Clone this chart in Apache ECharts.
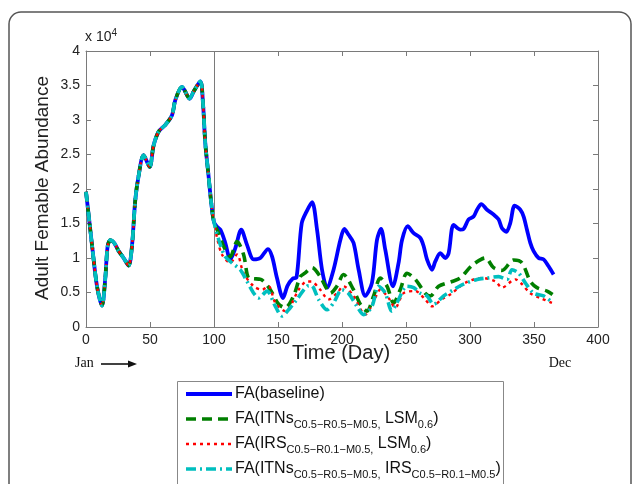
<!DOCTYPE html>
<html>
<head>
<meta charset="utf-8">
<script src="https://cdn.jsdelivr.net/npm/echarts/dist/echarts.min.js"></script>
<style>
  html, body { margin: 0; padding: 0; background: #fff; }
  #chart { width: 632px; height: 484px; }
</style>
</head>
<body>
<div id="chart"></div>
<script>
// Adult female mosquito abundance (units of 10^4) over one year.
// Days 0-100: all scenarios share the same trajectory (before intervention).
const sharedDays = [0, 2.5, 4.8, 8.6, 12.5, 15, 16.9, 19, 22, 25.5, 29.4, 33.3, 35.9, 38.5, 41, 45, 49.7, 52.8, 56.7, 62, 67.2, 69.8, 75, 81, 84, 89.3, 91.4, 93.2, 95.8, 97.9, 100];
const sharedVals = [1.96, 1.55, 1.17, 0.59, 0.31, 0.69, 1.17, 1.26, 1.22, 1.10, 1.00, 0.89, 1.17, 1.84, 2.18, 2.49, 2.32, 2.63, 2.83, 2.93, 3.07, 3.29, 3.48, 3.31, 3.41, 3.56, 3.24, 2.66, 2.18, 1.79, 1.52];

// Days after 100: one tail per scenario
const baselineDays = [102, 105, 108.8, 112.7, 116.6, 121.3, 125.8, 131, 136.2, 142.2, 145.4, 149.2, 153.9, 157.5, 161.5, 164.5, 168.5, 172.5, 176.6, 180.5, 184.4, 188.3, 193.4, 198.7, 201.8, 205, 209, 213, 218.2, 223.4, 227.3, 230.5, 233.8, 239.8, 244.2, 246.9, 251.3, 256, 261.2, 263.8, 266.4, 270.3, 272.9, 276.8, 280.7, 283.3, 287.2, 292.4, 295, 298.9, 302.8, 305.5, 308.8, 313.3, 318.4, 322.3, 325, 328.4, 331.5, 334.9, 339.3, 341.9, 344.5, 347.1, 349.7, 353.6, 357.5, 361.4, 365.3];
const baselineVals = [1.46, 1.41, 1.22, 0.98, 1.14, 1.41, 1.19, 0.98, 1.00, 1.13, 1.02, 0.71, 0.42, 0.60, 0.70, 0.72, 1.50, 1.68, 1.81, 1.41, 0.83, 0.57, 0.83, 1.26, 1.42, 1.34, 1.22, 0.83, 0.45, 0.64, 1.26, 1.42, 1.12, 0.59, 0.93, 1.26, 1.46, 1.36, 1.29, 1.17, 0.98, 0.83, 0.95, 1.07, 1.00, 1.07, 1.48, 1.41, 1.42, 1.56, 1.60, 1.70, 1.78, 1.70, 1.63, 1.56, 1.43, 1.38, 1.51, 1.76, 1.70, 1.60, 1.41, 1.22, 1.10, 1.00, 0.98, 0.88, 0.76];

const itnLsmDays = [103.6, 107.5, 112.7, 118, 123.1, 127, 131, 136.5, 144, 150.5, 155.7, 162.2, 167.4, 171, 176.6, 183, 187, 190.9, 196, 201.2, 209, 214.3, 219.5, 224.7, 229.9, 235.2, 240.3, 245.5, 250.8, 257.3, 265, 269, 275.5, 286, 292.4, 301.5, 312, 318.4, 325, 334, 340.6, 347.1, 352.3, 360.2, 364.5];
const itnLsmVals = [1.36, 1.17, 1.02, 1.24, 1.05, 0.71, 0.70, 0.69, 0.54, 0.33, 0.28, 0.45, 0.73, 0.78, 0.86, 0.73, 0.59, 0.49, 0.59, 0.76, 0.54, 0.33, 0.23, 0.45, 0.71, 0.59, 0.35, 0.54, 0.78, 0.69, 0.49, 0.45, 0.59, 0.66, 0.71, 0.89, 1.00, 0.86, 0.82, 0.97, 0.93, 0.66, 0.57, 0.52, 0.47];

const irsLsmDays = [102.3, 106.2, 112.7, 118, 123.1, 131, 137.5, 142.7, 147.9, 156, 161, 166.1, 172.7, 176, 183, 189.5, 196, 201.2, 209, 218.2, 224.7, 229.9, 236.4, 241.6, 248.1, 257.3, 265, 270.3, 278, 286, 296.3, 309.4, 319.8, 325, 335.4, 340.6, 347.1, 354.9, 364];
const irsLsmVals = [1.30, 1.05, 0.93, 1.05, 0.78, 0.59, 0.54, 0.59, 0.35, 0.23, 0.35, 0.54, 0.66, 0.66, 0.54, 0.40, 0.49, 0.59, 0.45, 0.18, 0.37, 0.54, 0.42, 0.28, 0.49, 0.52, 0.40, 0.30, 0.40, 0.49, 0.64, 0.71, 0.66, 0.57, 0.69, 0.62, 0.49, 0.42, 0.35];

const itnIrsDays = [105, 108.8, 114, 120.5, 125.8, 131, 134.8, 141.4, 147.9, 153.1, 159.6, 164.8, 172.7, 176, 181.7, 188.3, 193.4, 200, 205, 211.7, 216.9, 223.4, 228.6, 233.8, 239, 242.9, 250.8, 256, 261.2, 266.4, 271.6, 279.4, 287.2, 293.7, 305.5, 313.3, 322.3, 328.9, 332.8, 338, 343.2, 349.7, 357.5, 364.7];
const itnIrsVals = [1.19, 1.02, 0.93, 0.83, 0.66, 0.49, 0.42, 0.52, 0.30, 0.16, 0.28, 0.40, 0.59, 0.60, 0.40, 0.25, 0.35, 0.54, 0.49, 0.30, 0.18, 0.30, 0.59, 0.49, 0.23, 0.35, 0.59, 0.57, 0.49, 0.45, 0.33, 0.45, 0.54, 0.61, 0.69, 0.71, 0.73, 0.69, 0.83, 0.78, 0.64, 0.49, 0.45, 0.35];

const seriesNames = ['FA(baseline)', 'FA(ITNs, LSM)', 'FA(IRS, LSM)', 'FA(ITNs, IRS)'];
// Key labels with subscripts (rich text)
const keyLabels = [
  'FA(baseline)',
  'FA(ITNs{sub|C0.5\u2212R0.5\u2212M0.5,} LSM{sub|0.6})',
  'FA(IRS{sub|C0.5\u2212R0.1\u2212M0.5,} LSM{sub|0.6})',
  'FA(ITNs{sub|C0.5\u2212R0.5\u2212M0.5,} IRS{sub|C0.5\u2212R0.1\u2212M0.5})'
];

const xTicks = { min: 0, max: 400, step: 50 };
const yTicks = { min: 0, max: 4, step: 0.5 };

function pairs(days, vals) {
  const a = sharedDays.map((d, i) => [d, sharedVals[i]]);
  return a.concat(days.map((d, i) => [d, vals[i]]));
}

const SANS = '"Liberation Sans", Arial, sans-serif';
const SERIF = '"Liberation Serif", "Times New Roman", serif';
const AXIS_GREY = '#7a7a7a';

// line styles shared by the plotted series and the key
const styles = [
  { color: '#0000ff', width: 3.8, dash: 'solid' },
  { color: '#007f00', width: 3.6, dash: [10, 6] },
  { color: '#ff0000', width: 2.4, dash: [3, 4] },
  { color: '#00bfbf', width: 3.6, dash: [10, 4, 2, 4] }
];

function makeAxis(pos, ticks, showLabels) {
  return {
    type: 'value',
    position: pos,
    min: ticks.min,
    max: ticks.max,
    interval: ticks.step,
    axisLine: { show: true, onZero: false, lineStyle: { color: AXIS_GREY, width: 1 } },
    axisTick: { show: true, inside: true, length: 5, lineStyle: { color: AXIS_GREY } },
    axisLabel: { show: showLabels, color: '#222', fontSize: 14, fontFamily: SANS, margin: 6 },
    splitLine: { show: false }
  };
}

function lineSeries(i, data) {
  const s = styles[i];
  return {
    name: seriesNames[i],
    type: 'line',
    data: data,
    smooth: 0.3,
    symbol: 'none',
    showSymbol: false,
    z: 2 + i,
    lineStyle: { color: s.color, width: s.width, type: s.dash, cap: 'butt' },
    itemStyle: { color: s.color }
  };
}

const chart = echarts.init(document.getElementById('chart'), null, { renderer: 'canvas' });

const baseline = lineSeries(0, pairs(baselineDays, baselineVals));
baseline.markLine = {
  silent: true,
  symbol: 'none',
  label: { show: false },
  lineStyle: { color: AXIS_GREY, type: 'solid', width: 1 },
  data: [{ xAxis: 100 }]
};

// Key box drawn below the plot
const KEY_TOP = 394, KEY_STEP = 25;
const keyItems = [];
styles.forEach((s, i) => {
  const y = KEY_TOP + i * KEY_STEP;
  keyItems.push({
    type: 'line', silent: true, z: 10,
    shape: { x1: 186, y1: y, x2: 232, y2: y },
    style: { stroke: s.color, lineWidth: s.width, lineDash: s.dash === 'solid' ? null : s.dash }
  });
  keyItems.push({
    type: 'text', silent: true, z: 10, x: 235, y: y,
    style: {
      text: keyLabels[i], fill: '#111', font: '16px ' + SANS,
      textAlign: 'left', textVerticalAlign: 'middle',
      rich: { sub: { fontSize: 11, fontFamily: SANS, fill: '#111', padding: [11, 0, 0, 0] } }
    }
  });
});

chart.setOption({
  animation: false,
  backgroundColor: '#fff',
  grid: { left: 86, right: 34, top: 51, bottom: 157, containLabel: false },
  xAxis: [makeAxis('bottom', xTicks, true), makeAxis('top', xTicks, false)],
  yAxis: [makeAxis('left', yTicks, true), makeAxis('right', yTicks, false)],
  graphic: [
    // figure frame
    { type: 'rect', z: -10, silent: true,
      shape: { x: 9, y: 12, width: 622, height: 520, r: 12 },
      style: { fill: 'none', stroke: '#555', lineWidth: 1.5 } },
    // key box
    { type: 'rect', z: 5, silent: true,
      shape: { x: 177.5, y: 381.5, width: 326, height: 120 },
      style: { fill: '#fff', stroke: '#888', lineWidth: 1 } },
    // axis exponent
    { type: 'text', silent: true, x: 85, y: 37,
      style: { text: 'x 10{sup|4}', fill: '#222', font: '14px ' + SANS, textVerticalAlign: 'middle',
        rich: { sup: { fontSize: 10, fontFamily: SANS, fill: '#222', padding: [0, 0, 8, 0] } } } },
    // y-axis title
    { type: 'text', silent: true, x: 43, y: 188, rotation: Math.PI / 2,
      style: { text: 'Adult Femable Abundance', fill: '#222', font: '19px ' + SANS,
        textAlign: 'center', textVerticalAlign: 'middle' } },
    // x-axis title
    { type: 'text', silent: true, x: 341, y: 353,
      style: { text: 'Time (Day)', fill: '#222', font: '20px ' + SANS,
        textAlign: 'center', textVerticalAlign: 'middle' } },
    // month markers
    { type: 'text', silent: true, x: 75, y: 363,
      style: { text: 'Jan', fill: '#111', font: '14px ' + SERIF, textAlign: 'left', textVerticalAlign: 'middle' } },
    { type: 'line', silent: true,
      shape: { x1: 101, y1: 364, x2: 130, y2: 364 },
      style: { stroke: '#111', lineWidth: 1.6 } },
    { type: 'polygon', silent: true,
      shape: { points: [[128, 360.5], [137, 364], [128, 367.5]] },
      style: { fill: '#111' } },
    { type: 'text', silent: true, x: 560, y: 363,
      style: { text: 'Dec', fill: '#111', font: '14px ' + SERIF, textAlign: 'center', textVerticalAlign: 'middle' } }
  ].concat(keyItems),
  series: [
    baseline,
    lineSeries(1, pairs(itnLsmDays, itnLsmVals)),
    lineSeries(2, pairs(irsLsmDays, irsLsmVals)),
    lineSeries(3, pairs(itnIrsDays, itnIrsVals))
  ]
});
</script>
</body>
</html>
